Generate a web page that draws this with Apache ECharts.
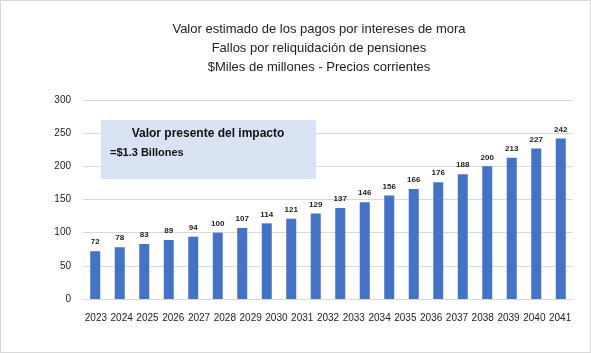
<!DOCTYPE html>
<html>
<head>
<meta charset="utf-8">
<script src="https://cdn.jsdelivr.net/npm/echarts@6/dist/echarts.min.js"></script>
<style>
  html, body { margin: 0; padding: 0; background: #fff; }
  #chart { width: 589px; height: 351px; border: 1px solid #d9d9d9; }
</style>
</head>
<body>
<div id="chart"></div>
<script>
// valores ($ miles de millones)
const years = ['2023', '2024', '2025', '2026', '2027', '2028', '2029', '2030', '2031', '2032',
  '2033', '2034', '2035', '2036', '2037', '2038', '2039', '2040', '2041'];
const pagos = [72, 78, 83, 89, 94, 100, 107, 114, 121, 129, 137, 146, 156, 166, 176, 188, 200, 213, 227, 242];
const yTicks = [0, 50, 100, 150, 200, 250, 300];

const font = '"Liberation Sans Narrow", "Liberation Sans", sans-serif';

const chart = echarts.init(document.getElementById('chart'));
chart.setOption({
  animation: false,
  textStyle: { fontFamily: font },
  title: {
    text: 'Valor estimado de los pagos por intereses de mora\nFallos por reliquidación de pensiones\n$Miles de millones - Precios corrientes',
    left: 313,
    top: 14,
    textAlign: 'center',
    textStyle: { fontFamily: font, fontSize: 13, fontWeight: 'normal', color: '#222', lineHeight: 19 }
  },
  grid: { left: 82, right: 17, top: 99, bottom: 53 },
  xAxis: [{
    type: 'category',
    data: pagos.map((v, i) => i),
    axisLine: { lineStyle: { color: '#d9d9d9' } },
    axisTick: { show: false },
    axisLabel: { show: false }
  }, {
    type: 'category',
    position: 'bottom',
    data: years,
    axisLine: { show: false },
    axisTick: { show: false },
    axisLabel: { fontSize: 10, color: '#222', margin: 14, interval: 0 }
  }],
  yAxis: {
    type: 'value',
    min: yTicks[0],
    max: yTicks[yTicks.length - 1],
    interval: 50,
    axisLine: { show: false },
    axisTick: { show: false },
    splitLine: { lineStyle: { color: '#d9d9d9' } },
    axisLabel: { fontSize: 10, color: '#222', margin: 12 }
  },
  series: [{
    type: 'bar',
    data: pagos,
    barWidth: 10,
    itemStyle: { color: '#4472c4' },
    label: { show: true, position: 'top', fontSize: 8, fontWeight: 'bold', color: '#222', distance: 5 }
  }],
  graphic: [{
    type: 'group',
    left: 100,
    top: 119,
    z: 100,
    children: [{
      type: 'rect',
      z: 100,
      shape: { x: 0, y: 0, width: 215, height: 59 },
      style: { fill: '#dae3f3' }
    }, {
      type: 'text',
      z: 101,
      style: { x: 107, y: 8, text: 'Valor presente del impacto', align: 'center', font: 'bold 12px ' + font, fill: '#111' }
    }, {
      type: 'text',
      z: 101,
      style: { x: 9, y: 27, text: '=$1.3 Billones', font: 'bold 11px ' + font, fill: '#111' }
    }]
  }]
});
</script>
</body>
</html>
